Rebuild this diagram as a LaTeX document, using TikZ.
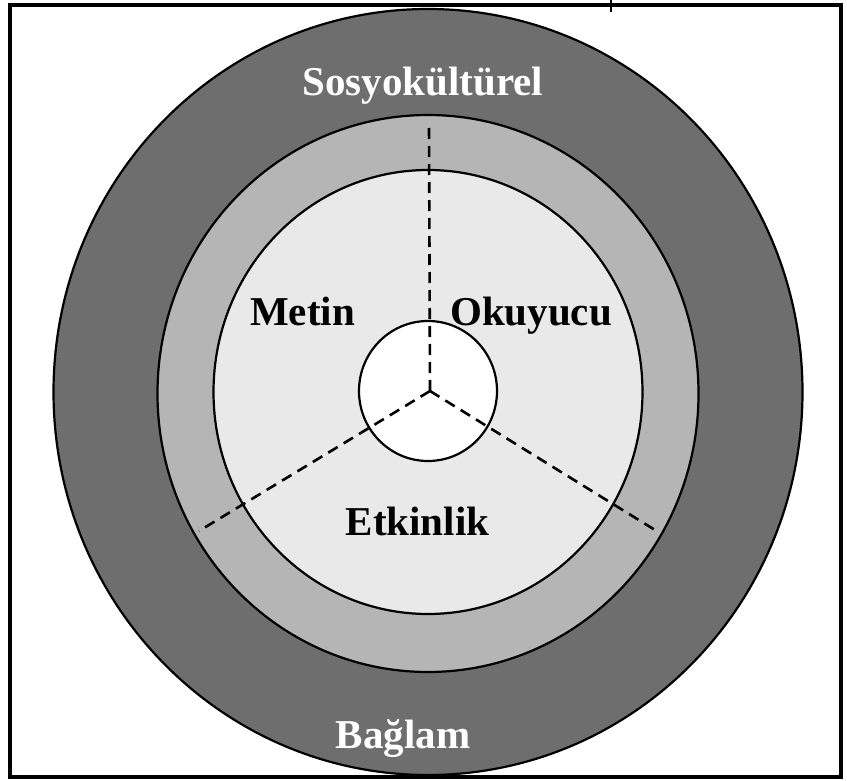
\documentclass[tikz,border=0pt]{standalone}
\usepackage{fontspec}
\setmainfont{Liberation Serif}
\definecolor{ringdark}{HTML}{6E6E6E}
\definecolor{ringmid}{HTML}{B5B5B5}
\definecolor{ringlight}{HTML}{E9E9E9}
\begin{document}
\begin{tikzpicture}[x=1pt,y=-1pt,
  ring/.style={draw=black,line width=2.2pt},
  divider/.style={draw=black,line width=2.6pt,dash pattern=on 11pt off 7pt},
  lbl/.style={font=\bfseries\fontsize{41}{41}\selectfont,anchor=base,inner sep=0pt},
  frame/.style={draw=black,line width=4pt}]
\useasboundingbox (0,0) rectangle (847,781);
\fill[white] (0,0) rectangle (847,781);
% frame
\draw[frame] (9.5,5.5) rectangle (841,777);
\draw[line width=2pt] (611,0) -- (611,12);
% rings
\coordinate (hub) at (430,391);
\filldraw[ring,fill=ringdark] (428,392) ellipse [x radius=374.5,y radius=383];
\filldraw[ring,fill=ringmid] (428,393.5) ellipse [x radius=270.5,y radius=278.5];
\filldraw[ring,fill=ringlight] (428,392) ellipse [x radius=214.5,y radius=222];
\filldraw[ring,fill=white] (428,391) ellipse [x radius=69,y radius=70];
% dividers
\coordinate (dtop) at (429,123);
\coordinate (dleft) at (199,531);
\coordinate (dright) at (655,530);
\draw[divider] (hub) -- (dtop);
\draw[divider] (hub) -- (dleft);
\draw[divider] (hub) -- (dright);
% labels
\node[lbl,text=white] (sosyo) at (423,96) {Sosyokültürel};
\node[lbl,text=white] (baglam) at (403,748) {Bağlam};
\node[lbl] (metin) at (302.5,325) {Metin};
\node[lbl] (okuyucu) at (531,325) {Okuyucu};
\node[lbl] (etkinlik) at (417.5,535) {Etkinlik};
\end{tikzpicture}
\end{document}
